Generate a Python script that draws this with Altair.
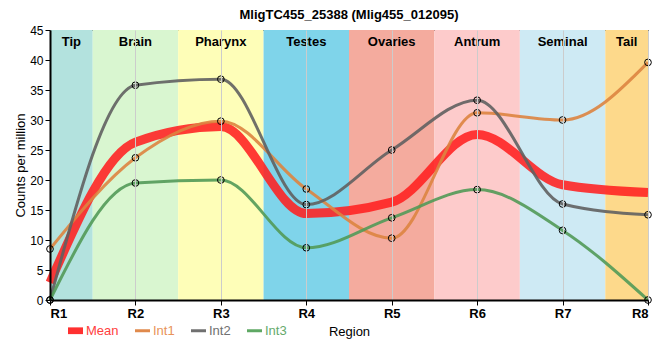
import altair as alt
import pandas as pd

# ---- data ----
positions = [1, 2, 3, 4, 5, 6, 7, 8]
labels = ["R1", "R2", "R3", "R4", "R5", "R6", "R7", "R8"]
series_names = ["Mean", "Int1", "Int2", "Int3"]
mean = [2.9, 26.3, 28.9, 14.4, 16.3, 27.6, 19.2, 17.9]
int1 = [8.5, 23.7, 29.8, 18.5, 10.3, 31.2, 30.0, 39.6]
int2 = [0.0, 35.8, 36.8, 15.9, 25.0, 33.3, 16.0, 14.2]
int3 = [0.0, 19.5, 20.0, 8.7, 13.7, 18.4, 11.6, 0.0]

tissues = ["Tip", "Brain", "Pharynx", "Testes", "Ovaries", "Antrum", "Seminal", "Tail"]
band_start = [1, 1.5, 2.5, 3.5, 4.5, 5.5, 6.5, 7.5]
band_end = [1.5, 2.5, 3.5, 4.5, 5.5, 6.5, 7.5, 8]
band_colors = ["#b3e2de", "#d9f6d0", "#fefeb8", "#7fd4ea", "#f4ab9e", "#fdcbcb", "#ceeaf4", "#fdd98b"]

line_colors = ["#ff2020", "#dd8440", "#606060", "#529a58"]

rows = []
for name, vals in zip(series_names, [mean, int1, int2, int3]):
    for p, v in zip(positions, vals):
        rows.append({"series": name, "x": p, "value": v})
df = pd.DataFrame(rows)
bands = pd.DataFrame({"tissue": tissues, "start": band_start, "end": band_end})
bands["mid"] = (bands["start"] + bands["end"]) / 2
bands["top"] = 45

FONT = "Liberation Sans"

xscale = alt.Scale(domain=[1, 8], nice=False, zero=False)
yscale = alt.Scale(domain=[0, 45], nice=False)
xaxis = alt.Axis(values=positions, labelExpr="'R' + datum.value", title="Region",
                 labelFontWeight="bold", labelFontSize=13, labelColor="black",
                 titleFontSize=13, titleFontWeight="normal", titleColor="black",
                 titlePadding=5, domainColor="black", domainWidth=2, tickColor="black",
                 tickSize=5, gridColor="#cccccc", zindex=1, labelFont=FONT, titleFont=FONT)
yaxis = alt.Axis(values=list(range(0, 46, 5)), title="Counts per million",
                 labelFontSize=12, labelColor="black", titleFontSize=13,
                 titleFontWeight="normal", titleColor="black", titlePadding=2,
                 domainColor="black", domainWidth=2, tickColor="black", tickSize=5,
                 gridColor="#cccccc", zindex=1, labelFont=FONT, titleFont=FONT)

band_layer = alt.Chart(bands).mark_rect().encode(
    x=alt.X("start:Q", scale=xscale, axis=xaxis),
    x2="end:Q",
    y=alt.Y(datum=0, scale=yscale, axis=yaxis),
    y2=alt.Y2(datum=45),
    fill=alt.Fill("tissue:N", scale=alt.Scale(domain=tissues, range=band_colors), legend=None),
)

band_text = alt.Chart(bands).mark_text(
    baseline="top", dy=6, fontSize=13, fontWeight="bold", font=FONT, color="black"
).encode(
    x=alt.X("mid:Q", scale=xscale, axis=xaxis),
    y=alt.Y("top:Q", scale=yscale, axis=yaxis),
    text="tissue:N",
)

label_color_expr = ("datum.label == 'Mean' ? '#ff4040' : datum.label == 'Int1' ? '#e8935a' : "
                    "datum.label == 'Int2' ? '#707070' : '#66aa6c'")
symbol_fill_expr = ("datum.label == 'Mean' ? '#ff3030' : datum.label == 'Int1' ? '#e08a4c' : "
                    "datum.label == 'Int2' ? '#707070' : '#5fa864'")
symbol_shape_expr = ("datum.label == 'Mean' ? 'M-1,-0.45H1V0.45H-1Z' : 'M-1,-0.2H1V0.2H-1Z'")
legend = alt.Legend(title=None, orient="none", direction="horizontal", legendX=18, legendY=293,
                    symbolType=alt.ExprRef(symbol_shape_expr), symbolSize=225,
                    symbolFillColor=alt.ExprRef(symbol_fill_expr), symbolStrokeWidth=0,
                    symbolOpacity=1, labelFontSize=13, labelFont=FONT,
                    labelColor=alt.ExprRef(label_color_expr),
                    columnPadding=16, labelOffset=3)

color_enc = alt.Color("series:N", scale=alt.Scale(domain=series_names, range=line_colors),
                      legend=legend, sort=series_names)

mean_line = alt.Chart(df).transform_filter("datum.series == 'Mean'").mark_line(
    interpolate="monotone", opacity=0.88, strokeWidth=9
).encode(
    x=alt.X("x:Q", scale=xscale, axis=xaxis),
    y=alt.Y("value:Q", scale=yscale, axis=yaxis),
    color=color_enc,
)

int_lines = alt.Chart(df).transform_filter("datum.series != 'Mean'").mark_line(
    interpolate="monotone", opacity=0.9, strokeWidth=3
).encode(
    x=alt.X("x:Q", scale=xscale, axis=xaxis),
    y=alt.Y("value:Q", scale=yscale, axis=yaxis),
    color=color_enc,
)

points = alt.Chart(df).transform_filter("datum.series != 'Mean'").mark_point(
    filled=False, color="black", size=45, strokeWidth=1, opacity=1
).encode(
    x=alt.X("x:Q", scale=xscale, axis=xaxis),
    y=alt.Y("value:Q", scale=yscale, axis=yaxis),
)

chart = alt.layer(band_layer, band_text, mean_line, int_lines, points).properties(
    width=598, height=270,
    autosize=alt.AutoSizeParams(type="none"),
    padding={"left": 42, "top": 22, "right": 4, "bottom": 45},
    title=alt.TitleParams("MligTC455_25388 (Mlig455_012095)", fontSize=13, fontWeight="bold",
                          font=FONT, anchor="middle", offset=2, color="black"),
).configure_view(stroke="black", strokeWidth=1)

chart.save("out.html", embed_options={"renderer": "svg", "actions": False})
